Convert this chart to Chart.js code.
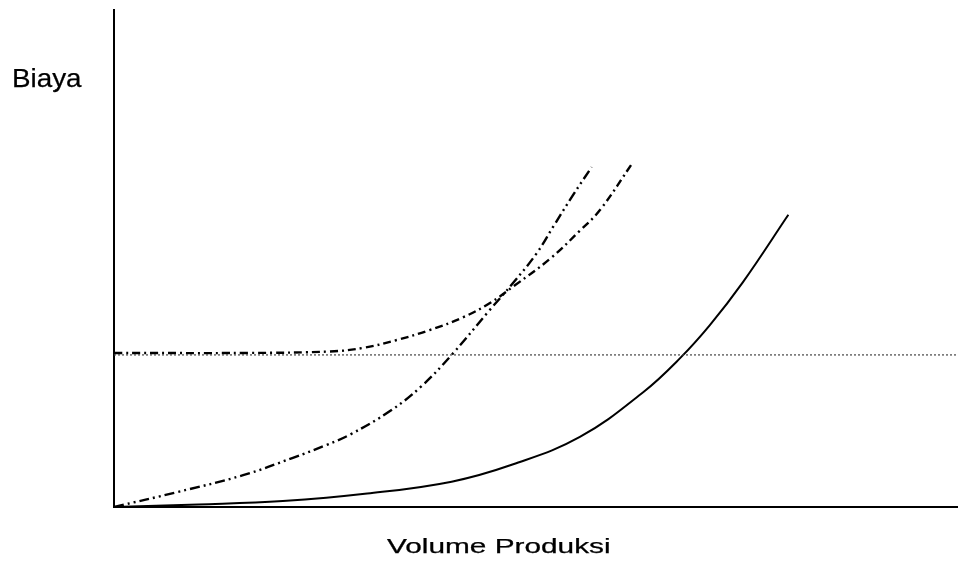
<!DOCTYPE html>
<html>
<head>
<meta charset="utf-8">
<script src="https://cdn.jsdelivr.net/npm/chart.js@4"></script>
<style>
  html, body { margin: 0; padding: 0; background: #fff; }
  #wrap { width: 958px; height: 567px; }
</style>
</head>
<body>
<div id="wrap"><canvas id="biaya"></canvas></div>
<script>
// nilai (skala 0-100, tanpa label sumbu)
const biaya_tetap_y = 30.6
const kurva_a_x = [0, 10, 20, 30, 40, 47.3, 55.2, 62.7, 67.1, 70.6, 74.5, 79.9]
const kurva_a_y = [0, 0.5, 1.2, 2.7, 5.1, 8.6, 14.1, 23.1, 30.0, 36.6, 45.2, 58.8]
const kurva_b_x = [0, 7.5, 15.3, 21.2, 25.2, 28.0, 32.7, 36.3, 40.0, 44.5, 47.3, 50.1, 52.0, 54.4, 56.6]
const kurva_b_y = [0, 3.0, 6.4, 9.9, 12.5, 14.6, 19.3, 24.1, 30.6, 39.6, 45.1, 51.1, 56.3, 62.8, 68.4]
const kurva_c_x = [0, 16, 25.6, 29.5, 33.5, 37.4, 41.4, 44.5, 47.5, 51.7, 55.2, 57.6, 61.5]
const kurva_c_y = [31, 31, 31.3, 32.0, 33.6, 35.6, 38.2, 41.0, 44.6, 50.0, 55.6, 59.8, 69.4]

const toPts = (xs, ys) => xs.map((x, i) => ({x: x, y: ys[i]}))

// teks sumbu (sedikit melebar seperti hasil scan)
const labelSumbu = {
    id: 'labelSumbu',
    afterDraw(chart) {
        const ctx = chart.ctx
        ctx.save()
        ctx.fillStyle = '#000'
        ctx.strokeStyle = '#000'
        ctx.lineWidth = 0.25
        ctx.textBaseline = 'alphabetic'
        ctx.font = '26px "Liberation Sans", Arial, sans-serif'
        ctx.save()
        ctx.translate(12, 87)
        ctx.scale(1.07, 1)
        ctx.fillText('Biaya', 0, 0)
        ctx.strokeText('Biaya', 0, 0)
        ctx.restore()
        ctx.font = '20px "Liberation Sans", Arial, sans-serif'
        ctx.save()
        ctx.translate(387, 553)
        ctx.scale(1.49, 1)
        ctx.fillText('Volume Produksi', 0, 0)
        ctx.strokeText('Volume Produksi', 0, 0)
        ctx.restore()
        ctx.restore()
    }
}

const ctxBiaya = document.getElementById('biaya').getContext('2d')

new Chart(ctxBiaya, {
    type: 'line',
    data: {
        datasets: [
            {
                data: toPts([0, 100], [biaya_tetap_y, biaya_tetap_y]),
                borderColor: '#444',
                borderWidth: 1.2,
                borderDash: [2, 2],
                pointRadius: 0
            },
            {
                data: toPts(kurva_a_x, kurva_a_y),
                borderColor: '#000',
                borderWidth: 2,
                pointRadius: 0,
                tension: 0.4
            },
            {
                data: toPts(kurva_b_x, kurva_b_y),
                borderColor: '#000',
                borderWidth: 2.4,
                borderDash: [10, 4, 2, 4, 2, 4],
                pointRadius: 0,
                tension: 0.4
            },
            {
                data: toPts(kurva_c_x, kurva_c_y),
                borderColor: '#000',
                borderWidth: 2.4,
                borderDash: [8, 4, 2, 4],
                pointRadius: 0,
                tension: 0.4
            }
        ]
    },
    options: {
        responsive: true,
        maintainAspectRatio: false,
        animation: false,
        layout: {
            padding: {left: 106, top: 10, right: 0, bottom: 52}
        },
        scales: {
            x: {
                type: 'linear',
                min: 0,
                max: 100,
                grid: {display: false},
                ticks: {display: false},
                border: {display: true, color: '#000', width: 2}
            },
            y: {
                min: 0,
                max: 100,
                grid: {display: false},
                ticks: {display: false},
                border: {display: true, color: '#000', width: 2}
            }
        },
        plugins: {
            legend: {display: false},
            tooltip: {enabled: false}
        }
    },
    plugins: [labelSumbu]
});
</script>
</body>
</html>
